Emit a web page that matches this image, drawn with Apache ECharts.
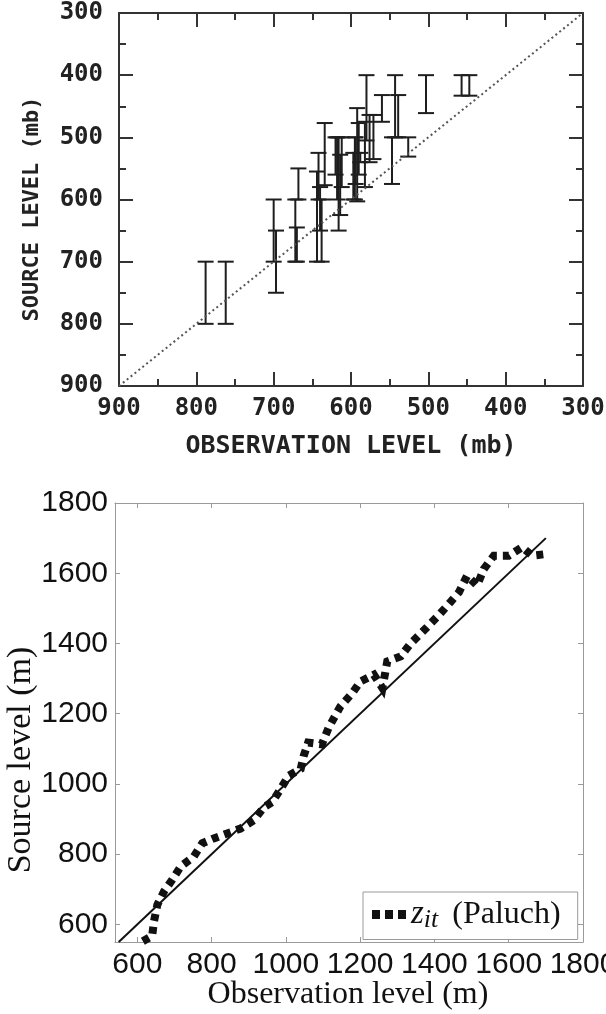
<!DOCTYPE html>
<html>
<head>
<meta charset="utf-8">
<style>
  html, body { margin: 0; padding: 0; background: #fff; }
  #chart { width: 606px; height: 1014px; }
</style>
<script src="https://cdn.jsdelivr.net/npm/echarts@6/dist/echarts.min.js"></script>
</head>
<body>
<div id="chart"></div>
<script>
// Upper panel: source level vs observation level (mb), with vertical ranges
const obsLevelMb = [788, 762, 700, 697, 672, 670, 668, 642, 644, 640, 638, 634,
  618, 616, 614, 612, 620, 595, 592, 590, 594, 597, 588, 580, 582, 576, 571,
  560, 543, 539, 547, 526, 503, 457, 447];
const srcTopMb = [700, 700, 600, 650, 600, 645, 550, 525, 555, 580, 600, 477,
  500, 500, 528, 500, 500, 500, 453, 477, 500, 525, 525, 400, 475, 464, 464,
  432, 400, 432, 500, 500, 400, 400, 400];
const srcBottomMb = [800, 800, 700, 750, 700, 700, 600, 600, 700, 650, 700, 577,
  600, 650, 625, 580, 560, 600, 603, 560, 575, 600, 540, 505, 580, 540, 535,
  475, 500, 500, 575, 531, 461, 433, 433];
const mbTicks = [300, 400, 500, 600, 700, 800, 900];

// Lower panel: iterated source level (m) and the 1:1 reference
const obsLevelM = [615, 640, 645, 654, 672, 694, 717, 752, 775, 806, 842, 878,
  914, 941, 963, 986, 1008, 1040, 1048, 1060, 1097, 1115, 1147, 1179, 1201,
  1237, 1260, 1273, 1309, 1336, 1377, 1412, 1439, 1466, 1488, 1515, 1533,
  1560, 1600, 1636, 1663, 1695];
const srcLevelM = [552, 567, 609, 656, 694, 727, 765, 793, 831, 845, 859, 873,
  897, 934, 948, 986, 1024, 1043, 1080, 1118, 1113, 1160, 1221, 1259, 1292,
  1311, 1273, 1349, 1363, 1400, 1443, 1481, 1513, 1546, 1593, 1565, 1612,
  1650, 1650, 1674, 1650, 1654];
const oneToOne = [550, 1700];
const mTicks = [600, 800, 1000, 1200, 1400, 1600, 1800];

const chart = echarts.init(document.getElementById('chart'), null, { renderer: 'canvas' });

const monoFont = '"DejaVu Sans Mono", monospace';
const serifFont = '"Liberation Serif", "DejaVu Serif", serif';
const sansFont = '"Liberation Sans", Arial, sans-serif';
const ink = '#222';

function upperAxis(extra) {
  return Object.assign({
    type: 'value', gridIndex: 0, min: 300, max: 900, interval: 100, inverse: true,
    axisLine: { show: true, onZero: false, lineStyle: { color: '#333', width: 2 } },
    axisTick: { show: true, inside: true, length: 14, lineStyle: { color: '#333', width: 2 } },
    minorTick: { show: true, splitNumber: 2, length: 7, lineStyle: { color: '#333', width: 2 } },
    splitLine: { show: false },
    axisLabel: { show: false }
  }, extra);
}

function lowerAxis(extra) {
  return Object.assign({
    type: 'value', gridIndex: 1,
    axisLine: { show: true, onZero: false, lineStyle: { color: '#9a9a9a', width: 1 } },
    axisTick: { show: true, inside: true, length: 5, customValues: mTicks,
      lineStyle: { color: '#9a9a9a', width: 1 } },
    splitLine: { show: false },
    axisLabel: { show: false }
  }, extra);
}

const mbLabel = {
  show: true, customValues: mbTicks, color: ink,
  fontFamily: monoFont, fontWeight: 'bold', fontSize: 24,
  showMinLabel: true, showMaxLabel: true, hideOverlap: false,
  formatter: v => String(v)
};
const mLabel = {
  show: true, customValues: mTicks, color: '#111',
  fontFamily: sansFont, fontSize: 30,
  showMinLabel: true, showMaxLabel: true, hideOverlap: false,
  formatter: v => String(v)
};

const errorBars = obsLevelMb.map((x, i) => [x, srcTopMb[i], srcBottomMb[i]]);
const zitLine = obsLevelM.map((x, i) => [x, srcLevelM[i]]);

chart.setOption({
  animation: false,
  backgroundColor: '#fff',
  grid: [
    { left: 119, right: 23, top: 13, height: 373, containLabel: false, outerBoundsMode: 'none' },
    { left: 115, right: 23, top: 503, height: 439, containLabel: false, outerBoundsMode: 'none' }
  ],
  xAxis: [
    upperAxis({ position: 'bottom', axisLabel: Object.assign({ margin: 11 }, mbLabel) }),
    upperAxis({ position: 'top' }),
    lowerAxis({ position: 'bottom', min: 540, max: 1800,
      axisLabel: Object.assign({ margin: 8 }, mLabel) }),
    lowerAxis({ position: 'top', min: 540, max: 1800 })
  ],
  yAxis: [
    upperAxis({ position: 'left', axisLabel: Object.assign({ margin: 16 }, mbLabel) }),
    upperAxis({ position: 'right' }),
    lowerAxis({ position: 'left', min: 550, max: 1800,
      axisLabel: Object.assign({ margin: 7 }, mLabel) }),
    lowerAxis({ position: 'right', min: 550, max: 1800 })
  ],
  legend: {
    show: true,
    data: ['zit'],
    left: 363, top: 892,
    orient: 'horizontal',
    padding: [6, 17, 6, 9],
    backgroundColor: '#fff',
    borderColor: '#9a9a9a', borderWidth: 1, borderRadius: 0,
    itemWidth: 34, itemHeight: 9, itemGap: 0,
    icon: 'path://M0,0h8v9h-8z M13,0h8v9h-8z M26,0h8v9h-8z',
    selectedMode: false,
    formatter: () => '{z|z}{s|it}{n|(Paluch)}',
    textStyle: {
      color: '#111',
      rich: {
        z: { fontFamily: serifFont, fontStyle: 'italic', fontSize: 33, lineHeight: 38, verticalAlign: 'middle' },
        s: { fontFamily: serifFont, fontStyle: 'italic', fontSize: 26, lineHeight: 38, verticalAlign: 'bottom', padding: [0, 0, 0, 0] },
        n: { fontFamily: serifFont, fontSize: 32, lineHeight: 38, verticalAlign: 'middle', padding: [0, 0, 0, 14] }
      }
    }
  },
  graphic: [
    { type: 'text', x: 351, y: 446,
      style: { text: 'OBSERVATION LEVEL (mb)', font: 'bold 25px ' + monoFont, fill: ink,
        align: 'center', verticalAlign: 'middle' } },
    { type: 'text', x: 32, y: 209, rotation: Math.PI / 2,
      style: { text: 'SOURCE LEVEL (mb)', font: 'bold 22px ' + monoFont, fill: ink,
        align: 'center', verticalAlign: 'middle' } },
    { type: 'text', x: 348, y: 995,
      style: { text: 'Observation level (m)', font: '32px ' + serifFont, fill: '#111',
        align: 'center', verticalAlign: 'middle' } },
    { type: 'text', x: 21, y: 760, rotation: Math.PI / 2,
      style: { text: 'Source level (m)', font: '34px ' + serifFont, fill: '#111',
        align: 'center', verticalAlign: 'middle' } }
  ],
  series: [
    {
      name: 'diagonal', type: 'line', xAxisIndex: 0, yAxisIndex: 0,
      data: [[900, 900], [300, 300]], symbol: 'none', silent: true,
      lineStyle: { color: '#555', width: 2, type: [2, 3] }
    },
    {
      name: 'ranges', type: 'custom', xAxisIndex: 0, yAxisIndex: 0,
      data: errorBars,
      encode: { x: 0, y: [1, 2] },
      renderItem: (params, api) => {
        const x = api.value(0);
        const top = api.coord([x, api.value(1)]);
        const bot = api.coord([x, api.value(2)]);
        const w = 8;
        const st = { stroke: '#1e1e1e', lineWidth: 2 };
        return {
          type: 'group',
          children: [
            { type: 'line', shape: { x1: top[0], y1: top[1], x2: bot[0], y2: bot[1] }, style: st },
            { type: 'line', shape: { x1: top[0] - w, y1: top[1], x2: top[0] + w, y2: top[1] }, style: st },
            { type: 'line', shape: { x1: bot[0] - w, y1: bot[1], x2: bot[0] + w, y2: bot[1] }, style: st }
          ]
        };
      }
    },
    {
      name: 'oneToOne', type: 'line', xAxisIndex: 2, yAxisIndex: 2,
      data: [[oneToOne[0], oneToOne[0]], [oneToOne[1], oneToOne[1]]],
      symbol: 'none', silent: true,
      lineStyle: { color: '#111', width: 2 }
    },
    {
      name: 'zit', type: 'line', xAxisIndex: 2, yAxisIndex: 2,
      data: zitLine, symbol: 'none',
      itemStyle: { color: '#111' },
      lineStyle: { color: '#111', width: 8, type: [7, 6], cap: 'butt', join: 'miter' }
    }
  ]
});
</script>
</body>
</html>
